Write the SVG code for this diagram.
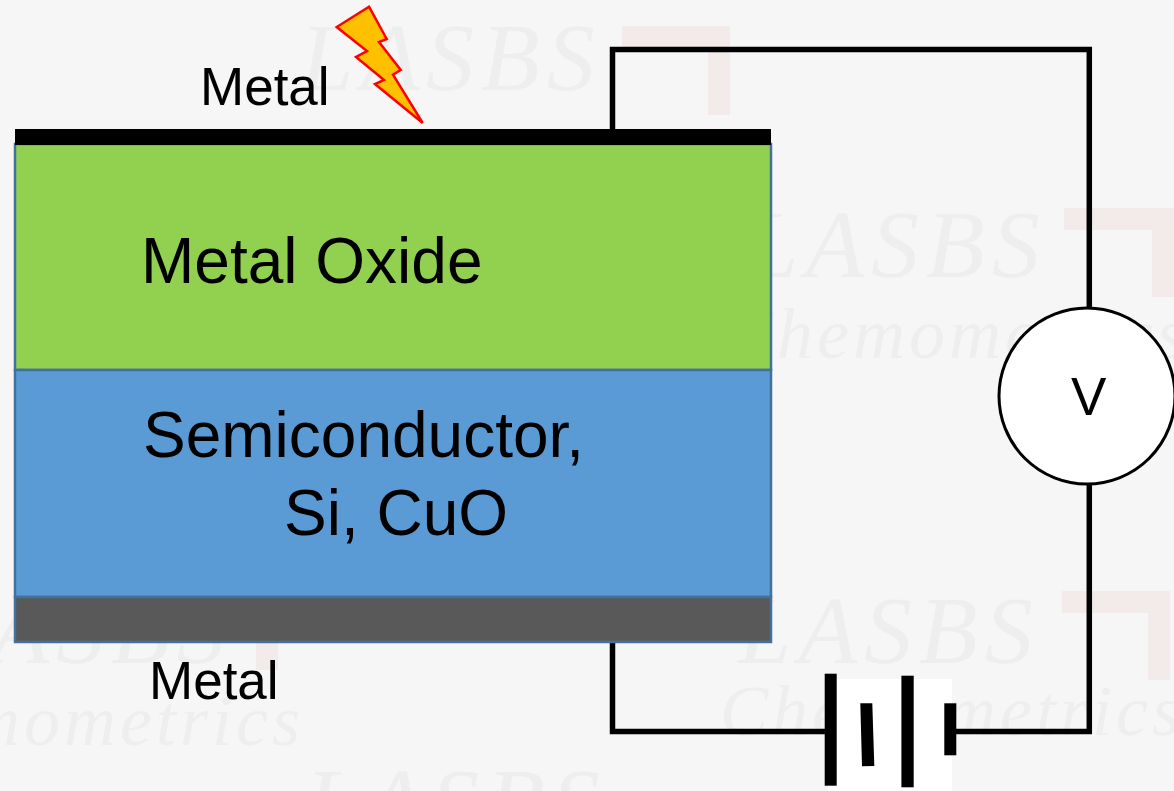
<svg xmlns="http://www.w3.org/2000/svg" width="1174" height="791" viewBox="0 0 1174 791">
<style>
.t{font-family:"Liberation Sans",Arial,sans-serif;fill:#000}
.big{font-size:64px}
.sm{font-size:53px}
.wm{font-family:"Liberation Serif","Times New Roman",serif;font-style:italic;fill:#eeeeee;letter-spacing:7px}
.w1{font-size:96px}
.w2{font-size:72px;letter-spacing:4px}
.sq{fill:none;stroke:#f3eaea;stroke-width:22}
.layer{stroke:#41719c;stroke-width:2.500}
.wire{fill:none;stroke:#000;stroke-width:5.500;stroke-linejoin:miter}
</style>
<rect id="background" width="1174" height="791" fill="#f6f6f6"/>
<g id="watermark">
<text class="wm w1" x="300" y="90">LASBS</text>
<path class="sq" d="M622 37H719V115"/>
<text class="wm w1" x="745" y="277">LASBS</text>
<path class="sq" d="M1064 219H1163V297"/>
<text class="wm w2" x="725" y="358">Chemometrics</text>
<text class="wm w1" x="738" y="663">LASBS</text>
<path class="sq" d="M1062 602H1159V680"/>
<text class="wm w2" x="720" y="735">Chemometrics</text>
<text class="wm w1" x="-70" y="663">LASBS</text>
<path class="sq" d="M240 602H267V670"/>
<text class="wm w2" x="-160" y="745">Chemometrics</text>
<text class="wm w1" x="305" y="835">LASBS</text>
</g>
<g id="connectors">
<path class="wire" d="M612.500 130V49.500H1089.300V310"/>
<path class="wire" d="M1089.300 482V731.500H955"/>
<path class="wire" d="M612.500 641V731.500H826"/>
</g>
<g id="metal-oxide">
<rect class="layer" x="15" y="144" width="756" height="226" fill="#92d050"/>
<text class="t big" x="141" y="283">Metal Oxide</text>
</g>
<g id="semiconductor">
<rect class="layer" x="15" y="370" width="756" height="227" fill="#5b9bd5"/>
<text class="t big" x="143" y="457">Semiconductor,</text>
<text class="t big" x="284" y="535">Si, CuO</text>
</g>
<g id="bottom-metal">
<rect class="layer" x="15" y="597" width="756" height="45" fill="#595959"/>
<text class="t sm" x="149" y="699">Metal</text>
</g>
<g id="top-metal">
<rect x="15" y="129" width="756" height="16" fill="#000"/>
<text class="t sm" x="200" y="105">Metal</text>
</g>
<g id="lightning">
<polygon points="369,6.700 386.700,39 379,42 400.700,70 393,74.700 422.700,123 375,84 384,80 356,57 367,51 336.700,27" fill="#ffc000" stroke="#ff0000" stroke-width="2.500"/>
</g>
<g id="voltmeter">
<circle cx="1087" cy="396" r="88" fill="#fff" stroke="#000" stroke-width="3"/>
<text class="t sm" x="1071" y="415">V</text>
</g>
<g id="battery">
<rect x="828" y="679" width="124" height="112" fill="#fff"/>
<rect x="824.700" y="673.700" width="12" height="112" fill="#000"/>
<polygon points="860.300,703.300 872.300,703.300 874.300,766 862,766.300" fill="#000"/>
<rect x="901.400" y="675.700" width="12.300" height="111.600" fill="#000"/>
<rect x="944.300" y="703.300" width="12" height="52" fill="#000"/>
</g>
</svg>
